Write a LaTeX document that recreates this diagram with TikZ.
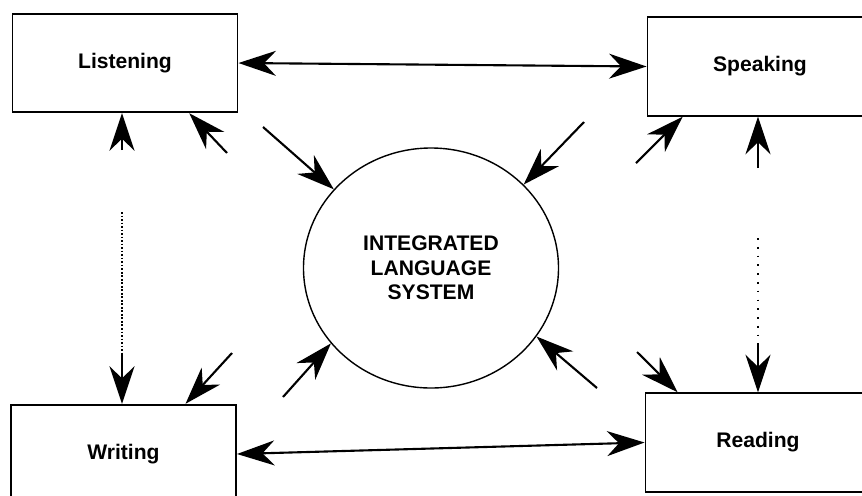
\documentclass[tikz,border=0pt]{standalone}
\usepackage{fontspec}
\setmainfont{Liberation Sans}
\usepackage{tikz}
\usetikzlibrary{positioning,arrows.meta,shapes.geometric}

\begin{document}
\begin{tikzpicture}[
  x=0.2mm, y=-0.2mm,
  >={Stealth[length=7.5mm, width=5mm, inset=2.4mm]},
  every node/.style={font=\fontsize{12}{14}\selectfont\bfseries},
  skill/.style={draw, line width=1.1pt, align=center, inner sep=0pt, minimum width=45mm, minimum height=19.7mm},
  core/.style={draw, ellipse, line width=0.8pt, align=center, inner sep=0pt, minimum width=51mm, minimum height=48mm},
  arrow/.style={->, line width=1.2pt},
  twoway/.style={<->, line width=1.2pt},
  link/.style={densely dotted, line width=1pt}
]
\useasboundingbox (0,0) rectangle (862,495);

\node[skill] (listen) at (125,63) {Listening};
\node[skill] (speak) at (760,66.5) {Speaking};
\node[skill] (write) at (123.5,454) {Writing};
\node[skill] (read) at (758,442.5) {Reading};
\node[core] (ils) at (431,268) {INTEGRATED\\LANGUAGE\\SYSTEM};

\coordinate (lup) at (122,150);
\coordinate (ldot) at (122,212);
\coordinate (ldown) at (122,354);
\coordinate (rup) at (758,168);
\coordinate (rdot) at (758,238);
\coordinate (rdown) at (758,345);

\coordinate (tolisten) at (227,153);
\coordinate (tospeak) at (636,163);
\coordinate (towrite) at (232,353);
\coordinate (toread) at (637,352);

\coordinate (fromul) at (263,127);
\coordinate (fromur) at (584,122);
\coordinate (fromll) at (283,397);
\coordinate (fromlr) at (597,388);

\draw[twoway] (listen.east) -- (speak.west);
\draw[twoway] (write.east) -- (read.west);

\draw[arrow] (lup) -- (lup |- listen.south);
\draw[link] (ldot) -- (ldown);
\draw[arrow] (ldown) -- (ldown |- write.north);
\draw[arrow] (rup) -- (rup |- speak.south);
\draw[link, loosely dotted] (rdot) -- (rdown);
\draw[arrow] (rdown) -- (rdown |- read.north);

\draw[arrow] (tolisten) -- (listen.-38);
\draw[arrow] (tospeak) -- (speak.213);
\draw[arrow] (towrite) -- (write.39);
\draw[arrow] (toread) -- (read.148);

\draw[arrow] (fromul) -- (ils.141);
\draw[arrow] (fromur) -- (ils.42);
\draw[arrow] (fromll) -- (ils.217);
\draw[arrow] (fromlr) -- (ils.327);
\end{tikzpicture}
\end{document}
